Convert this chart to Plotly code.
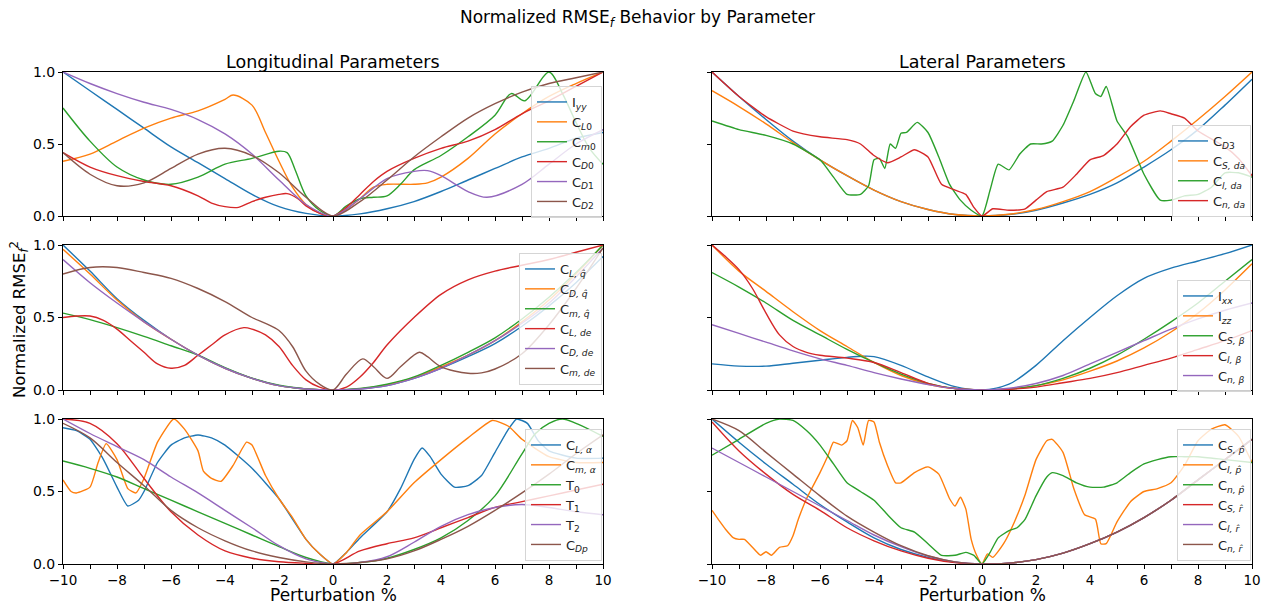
import plotly.graph_objects as go

# page is shown with an 8px body margin; figure sized to fill the rest of the 1273x604 window
OFF = 8
W, H = 1273 - OFF, 604 - OFF
X = list(range(-10, 11))

# ---------------- Longitudinal, top ----------------
IYY = [1.0, 0.87, 0.74, 0.61, 0.48, 0.37, 0.26, 0.15, 0.065, 0.018, 0, 0.015, 0.05, 0.1, 0.17, 0.25, 0.33, 0.41, 0.47, 0.54, 0.58]
CL0_X = [-10, -9, -8, -7, -6, -5, -4, -3.7, -3, -2.5, -2, -1.5, -1, -0.5, 0, 0.5, 1, 1.5, 2, 3, 3.5, 4, 5, 6, 7, 8, 9, 10]
CL0 = [0.38, 0.43, 0.52, 0.61, 0.68, 0.73, 0.81, 0.84, 0.77, 0.58, 0.38, 0.2, 0.08, 0.02, 0, 0.05, 0.12, 0.2, 0.22, 0.22, 0.23, 0.27, 0.4, 0.57, 0.71, 0.83, 0.92, 1.0]
CM0_X = [-10, -9, -8, -7, -6, -5, -4, -3, -2, -1.7, -1.4, -1, -0.5, 0, 0.5, 1, 1.5, 2, 2.5, 3, 4, 5, 6, 6.6, 7.1, 8, 8.5, 9, 9.5, 10]
CM0 = [0.75, 0.52, 0.34, 0.25, 0.22, 0.27, 0.36, 0.4, 0.45, 0.44, 0.32, 0.14, 0.04, 0, 0.07, 0.12, 0.13, 0.14, 0.22, 0.32, 0.42, 0.55, 0.7, 0.85, 0.8, 1.0, 0.85, 0.65, 0.47, 0.36]
CD0_X = [-10, -9, -8, -7, -6, -5, -4.5, -4, -3.5, -3, -2.5, -2, -1.7, -1.3, -1, -0.5, 0, 0.5, 1, 1.5, 2, 3, 4, 5, 6, 7, 8, 9, 10]
CD0 = [0.44, 0.34, 0.28, 0.24, 0.21, 0.14, 0.09, 0.065, 0.06, 0.1, 0.13, 0.15, 0.155, 0.12, 0.07, 0.02, 0, 0.06, 0.15, 0.24, 0.31, 0.4, 0.47, 0.52, 0.6, 0.71, 0.8, 0.9, 1.0]
CD1_X = [-10, -9, -8, -7, -6, -5, -4, -3, -2, -1, 0, 1, 2, 3, 3.5, 4, 5, 5.7, 7, 8, 9, 10]
CD1 = [1.0, 0.92, 0.85, 0.79, 0.74, 0.67, 0.57, 0.43, 0.25, 0.08, 0, 0.12, 0.26, 0.31, 0.315, 0.28, 0.17, 0.13, 0.22, 0.36, 0.5, 0.6]
CD2 = [0.44, 0.29, 0.21, 0.23, 0.33, 0.43, 0.47, 0.42, 0.3, 0.13, 0, 0.1, 0.25, 0.41, 0.55, 0.68, 0.78, 0.86, 0.92, 0.96, 1.0]

# ---------------- Lateral, top ----------------
CD3 = [1.0, 0.83, 0.67, 0.52, 0.39, 0.28, 0.18, 0.1, 0.045, 0.01, 0, 0.01, 0.04, 0.09, 0.15, 0.23, 0.34, 0.46, 0.6, 0.77, 0.95]
CSDA = [0.87, 0.76, 0.64, 0.51, 0.39, 0.28, 0.18, 0.1, 0.045, 0.01, 0, 0.012, 0.045, 0.1, 0.17, 0.27, 0.38, 0.52, 0.67, 0.83, 1.0]
CLDA_X = [-10, -9, -8, -7, -6, -5.5, -5, -4.5, -4.2, -4, -3.8, -3.6, -3.4, -3.2, -3, -2.8, -2.4, -2, -1.6, -1.2, -0.8, -0.4, 0,
          0.3, 0.6, 1, 1.4, 1.8, 2.2, 2.6, 3, 3.4, 3.85, 4.2, 4.4, 4.6, 5, 5.4, 6, 6.6, 7, 7.5, 8, 8.5, 9, 9.5, 10]
CLDA = [0.66, 0.6, 0.56, 0.5, 0.39, 0.27, 0.15, 0.15, 0.21, 0.39, 0.4, 0.33, 0.5, 0.47, 0.575, 0.58, 0.65, 0.58, 0.41, 0.22, 0.11, 0.04, 0,
        0.18, 0.36, 0.32, 0.43, 0.5, 0.5, 0.52, 0.63, 0.8, 1.0, 0.85, 0.83, 0.9, 0.66, 0.55, 0.29, 0.11, 0.11, 0.14, 0.15, 0.2, 0.3, 0.3, 0.27]
CNDA_X = [-10, -9, -8, -7, -6, -5, -4.5, -4, -3.5, -3, -2.5, -2, -1.5, -1, -0.6, -0.3, 0, 0.4, 1, 1.6, 2, 2.4, 3, 3.5, 4, 4.5, 5, 5.5, 6, 6.6, 7, 7.5, 8, 9, 9.5, 10]
CNDA = [1.0, 0.83, 0.69, 0.59, 0.55, 0.53, 0.5, 0.42, 0.37, 0.41, 0.46, 0.41, 0.22, 0.18, 0.15, 0.06, 0, 0.05, 0.04, 0.05, 0.11, 0.17, 0.2, 0.29, 0.39, 0.42, 0.5, 0.62, 0.7, 0.73, 0.71, 0.68, 0.59, 0.48, 0.4, 0.28]

# ---------------- Longitudinal, middle ----------------
CLQ = [1.0, 0.82, 0.63, 0.48, 0.35, 0.24, 0.15, 0.08, 0.03, 0.007, 0, 0.007, 0.03, 0.08, 0.15, 0.23, 0.32, 0.44, 0.58, 0.74, 0.92]
CDQ = [0.97, 0.8, 0.62, 0.47, 0.35, 0.24, 0.15, 0.08, 0.03, 0.007, 0, 0.008, 0.035, 0.085, 0.16, 0.24, 0.34, 0.47, 0.62, 0.8, 1.0]
CMQ = [0.53, 0.485, 0.43, 0.37, 0.305, 0.24, 0.155, 0.082, 0.033, 0.008, 0, 0.01, 0.04, 0.09, 0.17, 0.26, 0.36, 0.49, 0.64, 0.81, 1.0]
CLDE_X = [-10, -9.5, -9, -8.5, -8, -7.5, -7, -6.5, -6, -5.5, -5, -4.5, -4, -3.3, -3, -2.5, -2, -1.5, -1, -0.5, 0, 0.5, 1, 1.5, 2, 3, 4, 5, 6, 7, 8, 9, 10]
CLDE = [0.5, 0.51, 0.51, 0.48, 0.42, 0.34, 0.26, 0.18, 0.15, 0.17, 0.24, 0.31, 0.38, 0.43, 0.42, 0.38, 0.3, 0.17, 0.07, 0.02, 0, 0.02, 0.09, 0.19, 0.31, 0.5, 0.66, 0.76, 0.82, 0.86, 0.9, 0.95, 1.0]
CDDE = [0.9, 0.74, 0.6, 0.47, 0.35, 0.24, 0.15, 0.08, 0.03, 0.007, 0, 0.007, 0.03, 0.08, 0.15, 0.24, 0.34, 0.46, 0.6, 0.78, 0.98]
CMDE_X = [-10, -9, -8, -7, -6, -5, -4, -3, -2.5, -2, -1.5, -1, -0.5, 0, 0.5, 1.1, 1.5, 2, 2.5, 3.2, 3.5, 4, 5, 5.5, 6, 7, 8, 9, 10]
CMDE = [0.8, 0.845, 0.845, 0.81, 0.77, 0.7, 0.61, 0.5, 0.46, 0.41, 0.3, 0.13, 0.04, 0, 0.11, 0.215, 0.16, 0.08, 0.16, 0.26, 0.23, 0.16, 0.115, 0.118, 0.145, 0.25, 0.45, 0.7, 0.98]

# ---------------- Lateral, middle ----------------
IXX_X = [-10, -9, -8, -7, -6, -5, -4.4, -4, -3, -2, -1, 0, 1, 2, 3, 4, 5, 6, 7, 8, 9, 10]
IXX = [0.18, 0.165, 0.165, 0.185, 0.205, 0.225, 0.233, 0.23, 0.17, 0.09, 0.023, 0, 0.04, 0.17, 0.34, 0.5, 0.65, 0.77, 0.84, 0.89, 0.94, 1.0]
IZZ = [1.0, 0.82, 0.68, 0.54, 0.41, 0.3, 0.19, 0.1, 0.04, 0.01, 0, 0.008, 0.03, 0.07, 0.13, 0.2, 0.29, 0.4, 0.53, 0.69, 0.87]
CSB = [0.81, 0.71, 0.6, 0.48, 0.38, 0.28, 0.19, 0.11, 0.046, 0.01, 0, 0.006, 0.03, 0.08, 0.15, 0.24, 0.35, 0.47, 0.6, 0.75, 0.9]
CLB_X = [-10, -9.5, -9, -8.5, -8, -7.5, -7, -6.5, -6, -5, -4, -3, -2, -1, 0, 1, 2, 3, 4, 5, 6, 7, 8, 9, 10]
CLB = [1.0, 0.92, 0.83, 0.7, 0.53, 0.38, 0.3, 0.26, 0.24, 0.22, 0.19, 0.12, 0.046, 0.01, 0, 0.005, 0.02, 0.05, 0.08, 0.12, 0.17, 0.22, 0.28, 0.34, 0.41]
CNB = [0.45, 0.39, 0.33, 0.27, 0.215, 0.17, 0.12, 0.076, 0.037, 0.01, 0, 0.012, 0.045, 0.1, 0.18, 0.26, 0.34, 0.42, 0.49, 0.55, 0.6]

# ---------------- Longitudinal, bottom ----------------
CLA_X = [-10, -9.5, -9, -8.5, -8, -7.6, -7.2, -7, -6.5, -6, -5.5, -5, -4.5, -4, -3, -2, -1.5, -1, -0.5, 0, 0.5, 1, 2, 2.5, 3,
         3.3, 3.6, 4, 4.5, 5, 5.5, 6, 6.5, 6.8, 7.2, 7.6, 8, 9, 10]
CLA = [0.94, 0.92, 0.86, 0.72, 0.53, 0.4, 0.44, 0.5, 0.7, 0.82, 0.87, 0.89, 0.87, 0.82, 0.66, 0.45, 0.31, 0.17, 0.07, 0, 0.08, 0.18, 0.36, 0.52, 0.72,
       0.8, 0.74, 0.62, 0.53, 0.54, 0.61, 0.77, 0.93, 1.0, 0.97, 0.85, 0.78, 0.73, 0.73]
CMA_X = [-10, -9.7, -9.5, -9, -8.7, -8.4, -8, -7.6, -7.3, -7, -6.5, -5.9, -5.5, -5, -4.8, -4.5, -4.15, -3.7, -3.2, -3, -2.5, -2, -1.5, -1, -0.5, 0,
         0.5, 1, 2, 3, 4, 5, 5.9, 6.5, 7, 8, 9, 10]
CMA = [0.58, 0.5, 0.49, 0.53, 0.7, 0.83, 0.72, 0.52, 0.49, 0.59, 0.84, 1.0, 0.93, 0.78, 0.64, 0.59, 0.57, 0.68, 0.84, 0.82, 0.61, 0.45, 0.32, 0.17, 0.07, 0,
       0.08, 0.2, 0.36, 0.56, 0.72, 0.87, 0.99, 0.95, 0.86, 0.74, 0.7, 0.7]
T0_X = [-10, -9, -8, -7, -6, -5, -4, -3, -2, -1, 0, 1, 2, 3, 4, 5, 6, 7, 7.5, 8, 8.5, 9, 10]
T0 = [0.71, 0.66, 0.6, 0.52, 0.44, 0.36, 0.28, 0.2, 0.12, 0.045, 0, 0.01, 0.04, 0.1, 0.18, 0.3, 0.47, 0.76, 0.9, 0.97, 1.0, 0.97, 0.88]
T1 = [1.0, 0.97, 0.83, 0.59, 0.36, 0.2, 0.09, 0.04, 0.015, 0.005, 0, 0.09, 0.14, 0.18, 0.25, 0.32, 0.39, 0.43, 0.47, 0.51, 0.55]
T2 = [1.0, 0.9, 0.81, 0.72, 0.6, 0.49, 0.37, 0.25, 0.126, 0.035, 0, 0.01, 0.05, 0.15, 0.26, 0.34, 0.39, 0.41, 0.39, 0.36, 0.34]
CDP = [0.97, 0.87, 0.7, 0.54, 0.37, 0.25, 0.16, 0.09, 0.045, 0.015, 0, 0.01, 0.035, 0.09, 0.17, 0.26, 0.37, 0.49, 0.62, 0.76, 0.89]

# ---------------- Lateral, bottom ----------------
CSP = [1.0, 0.84, 0.69, 0.55, 0.41, 0.29, 0.18, 0.1, 0.046, 0.012, 0, 0.006, 0.03, 0.075, 0.14, 0.22, 0.32, 0.44, 0.58, 0.72, 0.86]
CLP_X = [-10, -9.7, -9.5, -9.2, -9, -8.8, -8.5, -8.2, -8, -7.8, -7.5, -7.2, -7, -6.8, -6.5, -6, -5.7, -5.5, -5.2, -5, -4.8, -4.6, -4.4, -4.2, -4,
         -3.8, -3.5, -3.2, -3, -2.5, -2, -1.6, -1.2, -1, -0.8, -0.6, -0.4, -0.2, 0, 0.2, 0.4, 0.8, 1.2, 1.6, 2, 2.4, 2.6, 3, 3.4, 3.8,
         4.2, 4.4, 4.6, 5, 5.5, 6, 6.5, 7, 7.5, 8, 8.5, 9, 9.5, 10]
CLP = [0.37, 0.29, 0.24, 0.18, 0.17, 0.17, 0.115, 0.06, 0.085, 0.06, 0.115, 0.126, 0.195, 0.31, 0.45, 0.63, 0.75, 0.84, 0.82, 0.85, 0.99, 0.94, 0.82, 0.99, 0.98,
       0.84, 0.68, 0.56, 0.56, 0.63, 0.67, 0.62, 0.45, 0.4, 0.46, 0.38, 0.17, 0.06, 0, 0.07, 0.046, 0.14, 0.29, 0.48, 0.72, 0.85, 0.86, 0.77, 0.52, 0.34,
       0.31, 0.14, 0.14, 0.29, 0.43, 0.5, 0.52, 0.56, 0.68, 0.85, 0.93, 0.96, 0.88, 0.7]
CNP_X = [-10, -9, -8, -7.5, -7, -6.5, -6, -5.5, -5, -4.5, -4, -3.5, -3, -2.5, -2, -1.5, -1, -0.6, -0.3, 0, 0.3, 0.6, 1, 1.3, 1.6, 2, 2.4, 2.6,
         3, 3.5, 4, 4.5, 5, 5.5, 6, 6.5, 7, 7.5, 8, 9, 10]
CNP = [0.75, 0.86, 0.97, 1.0, 0.99, 0.92, 0.82, 0.69, 0.56, 0.5, 0.44, 0.34, 0.25, 0.22, 0.14, 0.06, 0.06, 0.08, 0.06, 0, 0.08, 0.18, 0.23, 0.25, 0.31, 0.47, 0.6, 0.63,
       0.61, 0.56, 0.53, 0.53, 0.56, 0.63, 0.69, 0.72, 0.74, 0.74, 0.74, 0.72, 0.7]
CSR = [0.98, 0.78, 0.62, 0.48, 0.37, 0.25, 0.16, 0.09, 0.04, 0.01, 0, 0.006, 0.03, 0.075, 0.14, 0.22, 0.32, 0.44, 0.58, 0.72, 0.86]
CLR = [0.8, 0.7, 0.6, 0.5, 0.4, 0.3, 0.2, 0.12, 0.055, 0.015, 0, 0.006, 0.03, 0.075, 0.14, 0.22, 0.32, 0.44, 0.58, 0.72, 0.86]
CNR = [1.0, 0.92, 0.77, 0.62, 0.47, 0.33, 0.22, 0.126, 0.057, 0.015, 0, 0.006, 0.03, 0.075, 0.14, 0.22, 0.32, 0.44, 0.58, 0.72, 0.86]

COLORS = ["#1f77b4", "#ff7f0e", "#2ca02c", "#d62728", "#9467bd", "#8c564b"]

panels = [
    [("I<sub><i>yy</i></sub>", X, IYY), ("C<sub><i>L</i>0</sub>", CL0_X, CL0), ("C<sub><i>m</i>0</sub>", CM0_X, CM0),
     ("C<sub><i>D</i>0</sub>", CD0_X, CD0), ("C<sub><i>D</i>1</sub>", CD1_X, CD1), ("C<sub><i>D</i>2</sub>", X, CD2)],
    [("C<sub><i>D</i>3</sub>", X, CD3), ("C<sub><i>S, da</i></sub>", X, CSDA), ("C<sub><i>l, da</i></sub>", CLDA_X, CLDA),
     ("C<sub><i>n, da</i></sub>", CNDA_X, CNDA)],
    [("C<sub><i>L, q̂</i></sub>", X, CLQ), ("C<sub><i>D, q̂</i></sub>", X, CDQ), ("C<sub><i>m, q̂</i></sub>", X, CMQ),
     ("C<sub><i>L, de</i></sub>", CLDE_X, CLDE), ("C<sub><i>D, de</i></sub>", X, CDDE), ("C<sub><i>m, de</i></sub>", CMDE_X, CMDE)],
    [("I<sub><i>xx</i></sub>", IXX_X, IXX), ("I<sub><i>zz</i></sub>", X, IZZ), ("C<sub><i>S, β</i></sub>", X, CSB),
     ("C<sub><i>l, β</i></sub>", CLB_X, CLB), ("C<sub><i>n, β</i></sub>", X, CNB)],
    [("C<sub><i>L, α</i></sub>", CLA_X, CLA), ("C<sub><i>m, α</i></sub>", CMA_X, CMA), ("T<sub>0</sub>", T0_X, T0),
     ("T<sub>1</sub>", X, T1), ("T<sub>2</sub>", X, T2), ("C<sub><i>Dp</i></sub>", X, CDP)],
    [("C<sub><i>S, p̂</i></sub>", X, CSP), ("C<sub><i>l, p̂</i></sub>", CLP_X, CLP), ("C<sub><i>n, p̂</i></sub>", CNP_X, CNP),
     ("C<sub><i>S, r̂</i></sub>", X, CSR), ("C<sub><i>l, r̂</i></sub>", X, CLR), ("C<sub><i>n, r̂</i></sub>", X, CNR)],
]

# helpers: convert window pixel positions (measured on the reference) to paper fractions
def px_x(p):
    return (p - OFF) / W

def px_y(p):
    return 1 - (p - OFF) / H

col_dom = [[px_x(63), px_x(603)], [px_x(712), px_x(1252)]]
row_dom = [[px_y(216), px_y(72)], [px_y(390), px_y(245)], [px_y(564), px_y(419)]]
legend_pos = [(602, 86), (1251, 125), (602, 253), (1251, 280), (602, 429), (1251, 429)]

FONT = "DejaVu Sans"
fig = go.Figure()
layout = dict()

for i, series in enumerate(panels):
    r, c = i // 2, i % 2
    n = i + 1
    xa = "xaxis" if n == 1 else f"xaxis{n}"
    ya = "yaxis" if n == 1 else f"yaxis{n}"
    lg = "legend" if n == 1 else f"legend{n}"
    for k, (name, xs, ys) in enumerate(series):
        noisy = len(xs) > 34
        fig.add_trace(go.Scatter(
            x=xs, y=ys, name=name, mode="lines",
            line=dict(color=COLORS[k], width=1.4, shape="spline", smoothing=0.5 if noisy else 0.9),
            xaxis="x" if n == 1 else f"x{n}", yaxis="y" if n == 1 else f"y{n}",
            legend=lg, showlegend=True,
        ))
    layout[xa] = dict(domain=col_dom[c], anchor="y" if n == 1 else f"y{n}", range=[-10, 10],
                      tickmode="linear", tick0=-10, dtick=2, showticklabels=(r == 2),
                      ticks="outside", ticklen=4, tickcolor="black",
                      minor=dict(tickmode="linear", tick0=-10, dtick=1, ticks="outside", ticklen=4, tickcolor="black"),
                      showline=True, linecolor="black", linewidth=1, mirror=True, showgrid=False, zeroline=False,
                      automargin=False, tickfont=dict(size=13.5, color="black", family=FONT))
    layout[ya] = dict(domain=row_dom[r], anchor="x" if n == 1 else f"x{n}", range=[0, 1],
                      tickvals=[0, 0.5, 1], ticktext=["0.0", "0.5", "1.0"], showticklabels=(c == 0),
                      ticks="outside", ticklen=4, tickcolor="black", showline=True, linecolor="black",
                      linewidth=1, mirror=True, showgrid=False, zeroline=False, automargin=False,
                      tickfont=dict(size=14, color="black", family=FONT))
    lx, ly = legend_pos[i]
    layout[lg] = dict(x=px_x(lx), y=px_y(ly), xanchor="right", yanchor="top",
                      bgcolor="rgba(255,255,255,0.8)", bordercolor="#d5d5d5", borderwidth=1,
                      font=dict(size=13, color="#222", family=FONT), tracegroupgap=0)

ann = [
    dict(text="Normalized RMSE<sub><i>f</i></sub> Behavior by Parameter", x=px_x(637), y=px_y(18), font=dict(size=17)),
    dict(text="Longitudinal Parameters", x=(col_dom[0][0] + col_dom[0][1]) / 2, y=px_y(62), font=dict(size=17.5)),
    dict(text="Lateral Parameters", x=(col_dom[1][0] + col_dom[1][1]) / 2, y=px_y(62), font=dict(size=17.5)),
    dict(text="Perturbation %", x=(col_dom[0][0] + col_dom[0][1]) / 2, y=px_y(595), font=dict(size=17)),
    dict(text="Perturbation %", x=(col_dom[1][0] + col_dom[1][1]) / 2, y=px_y(595), font=dict(size=17)),
    dict(text="Normalized RMSE<sub><i>f</i></sub><sup>2</sup>", x=px_x(19), y=px_y(320), textangle=-90, font=dict(size=16.5)),
]
for a in ann:
    a.update(xref="paper", yref="paper", showarrow=False, xanchor="center", yanchor="middle")
    a["font"].update(family=FONT, color="black")

fig.update_layout(**layout)
fig.update_layout(width=W, height=H, margin=dict(l=0, r=0, t=0, b=0, autoexpand=False), paper_bgcolor="white",
                  plot_bgcolor="white", annotations=ann, font=dict(family=FONT, color="black"))
fig.write_html("out.html")
